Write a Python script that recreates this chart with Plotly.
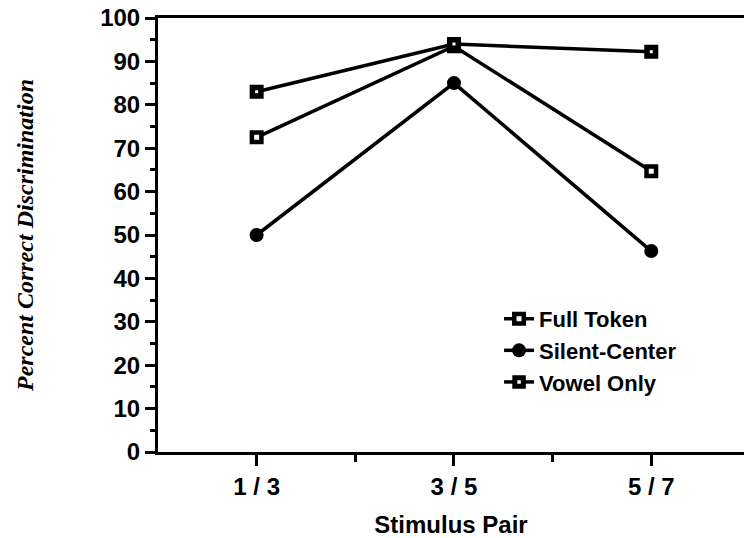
import plotly.graph_objects as go

categories = ["1 / 3", "3 / 5", "5 / 7"]
positions = [1, 2, 3]
full_token = [72.5, 93.5, 64.7]
silent_center = [50.0, 85.0, 46.3]
vowel_only = [83.0, 94.0, 92.2]
y_ticks = [0, 10, 20, 30, 40, 50, 60, 70, 80, 90, 100]

fig = go.Figure()
fig.add_trace(go.Scatter(
    x=positions, y=full_token, name="Full Token", mode="lines+markers",
    line=dict(color="black", width=3.5),
    marker=dict(symbol="square", size=9.5, color="white", line=dict(color="black", width=4.5)),
))
fig.add_trace(go.Scatter(
    x=positions, y=silent_center, name="Silent-Center", mode="lines+markers",
    line=dict(color="black", width=3.5),
    marker=dict(symbol="circle", size=14, color="black"),
))
fig.add_trace(go.Scatter(
    x=positions, y=vowel_only, name="Vowel Only", mode="lines+markers",
    line=dict(color="black", width=3.5),
    marker=dict(symbol="square", size=8.5, color="white", line=dict(color="black", width=5.5)),
))

sans = "Arial, Liberation Sans, sans-serif"
fig.update_layout(
    width=744, height=538,
    margin=dict(l=158, r=0, t=18, b=86),
    plot_bgcolor="white", paper_bgcolor="white",
    font=dict(family=sans, size=22, color="black"),
    showlegend=True,
    legend=dict(
        x=0.582, y=0.355, xanchor="left", yanchor="top",
        bgcolor="rgba(0,0,0,0)", itemwidth=30,
        font=dict(family=sans, size=22, color="black", weight="bold"),
        tracegroupgap=0, itemsizing="trace",
    ),
    xaxis=dict(
        range=[0.5, 3.47], tickmode="array", tickvals=positions, ticktext=categories,
        showgrid=False, zeroline=False,
        showline=True, linecolor="black", linewidth=3, mirror=True,
        ticks="outside", ticklen=11, tickwidth=3, tickcolor="black",
        minor=dict(tickmode="array", tickvals=[1.5, 2.5], ticks="outside",
                   ticklen=7, tickwidth=3, tickcolor="black", showgrid=False),
        tickfont=dict(family=sans, size=24, weight="bold"),
        title=dict(text="Stimulus Pair", font=dict(family=sans, size=24, weight="bold"), standoff=20),
    ),
    yaxis=dict(
        range=[0, 100], tickmode="array", tickvals=y_ticks,
        showgrid=False, zeroline=False,
        showline=True, linecolor="black", linewidth=3, mirror=False,
        ticks="outside", ticklen=10, tickwidth=3, tickcolor="black",
        minor=dict(dtick=5, tick0=0, ticks="outside", ticklen=5, tickwidth=3,
                   tickcolor="black", showgrid=False),
        tickfont=dict(family=sans, size=24, weight="bold"),
        title=dict(text="Percent Correct Discrimination",
                   font=dict(family="Liberation Serif, Times New Roman, serif", size=24,
                             weight="bold", style="italic"),
                   standoff=60),
    ),
)

fig.write_html("out.html")
